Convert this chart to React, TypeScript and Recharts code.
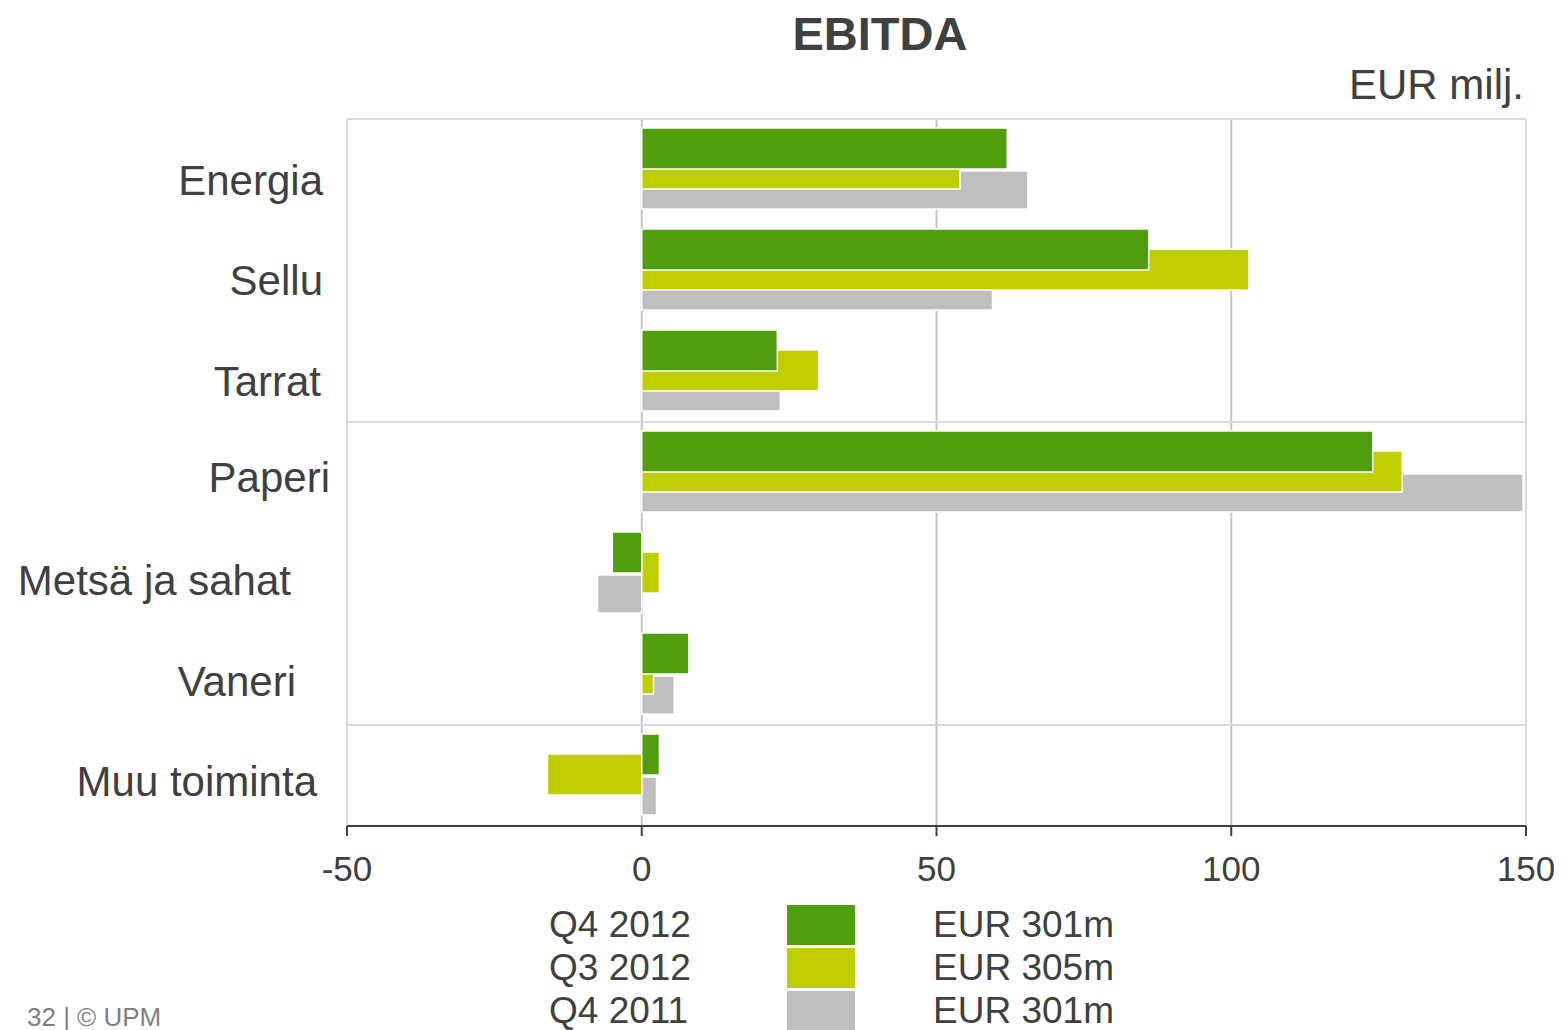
import React from 'react';
import { BarChart, Bar, XAxis, YAxis, CartesianGrid, ReferenceLine } from 'recharts';

const categories = ['Energia', 'Sellu', 'Tarrat', 'Paperi', 'Metsä ja sahat', 'Vaneri', 'Muu toiminta'];
const q4_2012 = [62, 86, 23, 124, -5, 8, 3];
const q3_2012 = [54, 103, 30, 129, 3, 2, -16];
const q4_2011 = [65.5, 59.5, 23.5, 149.5, -7.5, 5.5, 2.5];

const seriesNames = ['Q4 2012', 'Q3 2012', 'Q4 2011'];
const seriesTotals = ['EUR 301m', 'EUR 305m', 'EUR 301m'];
const seriesColors = ['#509e0e', '#bfce00', '#bfbfbf'];
const xTicks = [-50, 0, 50, 100, 150];

const data = categories.map((name, i) => ({
  name,
  q4_2012: q4_2012[i],
  q3_2012: q3_2012[i],
  q4_2011: q4_2011[i],
}));

const TEXT = '#404040';
const FONT = '"Liberation Sans", Arial, sans-serif';

// the slide's category labels are not quite aligned, nudge them like the original
const labelNudge: Record<string, [number, number]> = {
  Energia: [0, 11],
  Sellu: [0, 10],
  Tarrat: [-2, 10],
  Paperi: [7, 5],
  'Metsä ja sahat': [-32, 7],
  Vaneri: [-27, 7],
  'Muu toiminta': [-6, 6],
};

const CategoryTick = (props: any) => {
  const { x, y, payload } = props;
  const [dx, dy] = labelNudge[payload.value] || [0, 8];
  return (
    <text x={x + dx} y={y + dy} dy="0.355em" textAnchor="end" fontSize={42} fill={TEXT}>
      {payload.value}
    </text>
  );
};

export default function App() {
  return (
    <div style={{ position: 'absolute', left: 0, top: 0, width: 1564, height: 1030, fontFamily: FONT, background: '#fff', overflow: 'hidden' }}>
      <div style={{ position: 'absolute', left: 0, width: 1564, top: 10, textAlign: 'center', paddingLeft: 196, boxSizing: 'border-box', fontSize: 47, lineHeight: 1, fontWeight: 'bold', color: TEXT }}>
        EBITDA
      </div>
      <div style={{ position: 'absolute', right: 40, top: 64, fontSize: 42, lineHeight: 1, color: TEXT }}>
        EUR milj.
      </div>

      {/* bar order is reversed with a negative step so green is drawn last (on top) but sits highest */}
      <BarChart
        width={1564}
        height={1030}
        layout="vertical"
        data={data}
        margin={{ top: 119, right: 38, bottom: 144, left: 17 }}
        barGap={-61}
      >
        <CartesianGrid horizontal={false} stroke="#c4c4c4" strokeWidth={2} />
        <XAxis
          type="number"
          domain={[-50, 150]}
          ticks={xTicks}
          height={60}
          axisLine={{ stroke: TEXT, strokeWidth: 2 }}
          tickLine={{ stroke: TEXT, strokeWidth: 2 }}
          tickSize={10}
          tickMargin={20}
          tick={{ fill: TEXT, fontSize: 35 }}
        />
        <YAxis
          type="category"
          dataKey="name"
          width={330}
          axisLine={false}
          tickLine={false}
          tickSize={0}
          tickMargin={24}
          tick={CategoryTick}
        />
        <ReferenceLine y="Energia" position="start" stroke="#d9d9d9" strokeWidth={2} />
        <ReferenceLine y="Paperi" position="start" stroke="#d9d9d9" strokeWidth={2} />
        <ReferenceLine y="Muu toiminta" position="start" stroke="#d9d9d9" strokeWidth={2} />
        <ReferenceLine x={-50} stroke="#d9d9d9" strokeWidth={2} />
        <ReferenceLine x={150} stroke="#d9d9d9" strokeWidth={2} />
        <Bar dataKey="q4_2011" fill={seriesColors[2]} barSize={38} stroke="#fff" strokeWidth={1.5} isAnimationActive={false} />
        <Bar dataKey="q3_2012" fill={seriesColors[1]} barSize={41} stroke="#fff" strokeWidth={1.5} isAnimationActive={false} />
        <Bar dataKey="q4_2012" fill={seriesColors[0]} barSize={41} stroke="#fff" strokeWidth={1.5} isAnimationActive={false} />
      </BarChart>

      <div style={{ position: 'absolute', left: 549, top: 903 }}>
        {seriesNames.map((n, i) => (
          <div key={n} style={{ display: 'flex', alignItems: 'center', height: 43 }}>
            <div style={{ width: 238, fontSize: 37, lineHeight: 1, color: TEXT }}>{n}</div>
            <div style={{ width: 68, height: 40, background: seriesColors[i] }} />
            <div style={{ marginLeft: 78, fontSize: 37, lineHeight: 1, color: TEXT }}>{seriesTotals[i]}</div>
          </div>
        ))}
      </div>

      <div style={{ position: 'absolute', left: 27, top: 1004, fontSize: 26, lineHeight: 1, color: '#7f7f7f' }}>
        32 | © UPM
      </div>
    </div>
  );
}
